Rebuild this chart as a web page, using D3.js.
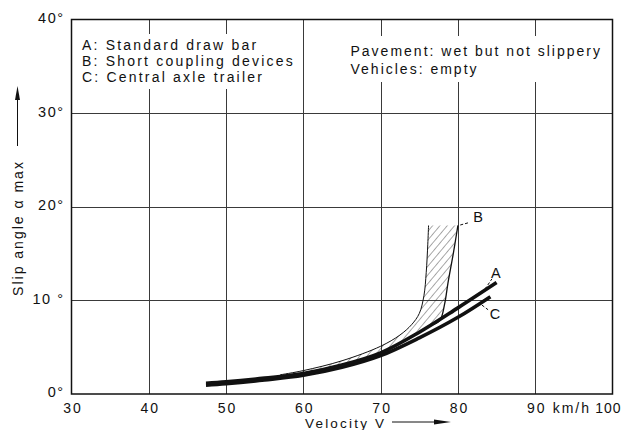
<!DOCTYPE html>
<html>
<head>
<meta charset="utf-8">
<script src="https://cdn.jsdelivr.net/npm/d3@7"></script>
<style>
  html, body { margin: 0; padding: 0; background: #fff; }
  svg { display: block; }
  text { font-family: "Liberation Sans", Arial, Helvetica, sans-serif; fill: #111; }
</style>
</head>
<body>
<svg id="chart" width="624" height="430"></svg>
<script>
// Velocity ticks (km/h) and slip-angle ticks (degrees)
const speedTicks = [30, 40, 50, 60, 70, 80, 90, 100];
const angleTicks = [0, 10, 20, 30, 40];
const angleTickLabels = ["0°", "10 °", "20°", "30°", "40°"];

// A: standard draw bar
const aSpeed = [47.4, 50, 55, 60, 65, 70, 75, 80, 85];
const aAngle = [1.15, 1.3, 1.7, 2.2, 3.1, 4.4, 6.6, 9.2, 11.9];

// C: central axle trailer
const cSpeed = [47.4, 50, 55, 60, 65, 70, 75, 80, 84.2];
const cAngle = [0.95, 1.1, 1.5, 2.0, 2.85, 4.1, 6.0, 8.2, 10.4];

// B: short coupling devices (scatter band) - left and right boundaries
const bLeftSpeed = [57, 60, 65, 70, 72.5, 74, 75, 75.6, 75.9, 76.1, 76.2];
const bLeftAngle = [2.05, 2.5, 3.55, 5.1, 6.3, 7.4, 8.6, 10.5, 13, 16, 18];
const bRightSpeed = [80, 79.4, 78.7, 78.3, 77.7, 76.8];
const bRightAngle = [18, 15, 11.8, 9.7, 7.9, 7.4];

// Curve tags with their leader lines
const tagNames = ["A", "B", "C"];
const tagSpeed = [84.9, 82.6, 84.8];
const tagAngle = [13.0, 18.9, 8.6];
const leadFromSpeed = [83.5, 80.3, 83.1];
const leadFromAngle = [11.2, 18.05, 9.5];
const leadToSpeed = [84.4, 81.4, 83.9];
const leadToAngle = [12.3, 18.3, 9.0];

const legendLines = ["A: Standard draw bar", "B: Short coupling devices", "C: Central axle trailer"];
const conditionLines = ["Pavement: wet but not slippery", "Vehicles: empty"];

const svg = d3.select("#chart");
const plot = { left: 71.5, right: 612.5, top: 19.5, bottom: 394 };

const x = d3.scaleLinear().domain([30, 100]).range([plot.left, plot.right]);
const y = d3.scaleLinear().domain([0, 40]).range([plot.bottom, plot.top]);

const zip = (xs, ys) => xs.map((v, i) => [v, ys[i]]);

// hatch pattern for the B band
const defs = svg.append("defs");
defs.append("pattern")
  .attr("id", "hatch")
  .attr("patternUnits", "userSpaceOnUse")
  .attr("width", 5.6).attr("height", 10)
  .attr("patternTransform", "rotate(40)")
  .append("line")
  .attr("x1", 0).attr("y1", 0).attr("x2", 0).attr("y2", 10)
  .attr("stroke", "#222").attr("stroke-width", 0.8);

// grid
const grid = svg.append("g").attr("stroke", "#3a3a3a").attr("stroke-width", 1);
grid.selectAll("line.v")
  .data(speedTicks.filter(d => d > 30 && d < 100))
  .join("line")
  .attr("x1", d => Math.round(x(d)) + 0.5).attr("x2", d => Math.round(x(d)) + 0.5)
  .attr("y1", plot.top).attr("y2", plot.bottom);
grid.selectAll("line.h")
  .data(angleTicks.filter(d => d > 0 && d < 40))
  .join("line")
  .attr("y1", d => Math.round(y(d)) + 0.5).attr("y2", d => Math.round(y(d)) + 0.5)
  .attr("x1", plot.left).attr("x2", plot.right);

// white panels behind the text blocks
svg.append("rect").attr("x", 78).attr("y", 34).attr("width", 214).attr("height", 55).attr("fill", "#fff");
svg.append("rect").attr("x", 345).attr("y", 36).attr("width", 262).attr("height", 46).attr("fill", "#fff");

// frame
svg.append("rect")
  .attr("x", plot.left).attr("y", plot.top)
  .attr("width", plot.right - plot.left).attr("height", plot.bottom - plot.top)
  .attr("fill", "none").attr("stroke", "#111").attr("stroke-width", 1.5);

// axis tick labels
const xAxis = d3.axisBottom(x).tickValues(speedTicks).tickSize(0).tickFormat(d3.format("d"));
const gx = svg.append("g").attr("transform", `translate(0,${plot.bottom})`).call(xAxis);
gx.select(".domain").remove();
gx.selectAll("text")
  .attr("y", 0).attr("dy", 18.5).attr("dx", 1)
  .style("font-size", "14px").style("letter-spacing", "2px").style("fill", "#111");
// the last label sits against the right edge of the page
gx.selectAll(".tick").filter(d => d === 100).select("text")
  .attr("text-anchor", "end").attr("dx", 621 - x(100))
  .style("letter-spacing", "1px");

const yAxis = d3.axisLeft(y).tickValues(angleTicks).tickSize(0).tickFormat((d, i) => angleTickLabels[i]);
const gy = svg.append("g").attr("transform", `translate(${plot.left - 4},0)`).call(yAxis);
gy.select(".domain").remove();
gy.selectAll("text")
  .attr("dy", "0.2em")
  .style("font-size", "14.5px").style("letter-spacing", "1.5px").style("fill", "#111");

// unit label between 90 and 100
svg.append("text")
  .attr("x", x(95) - 2).attr("y", plot.bottom + 18.5)
  .attr("text-anchor", "middle")
  .style("font-size", "14px").style("letter-spacing", "2px")
  .text("km/h");

// axis titles
svg.append("text")
  .attr("x", 305).attr("y", 428)
  .style("font-size", "13.5px").style("letter-spacing", "2.2px")
  .text("Velocity V");
svg.append("line").attr("x1", 392).attr("x2", 440).attr("y1", 422).attr("y2", 422)
  .attr("stroke", "#111").attr("stroke-width", 1);
svg.append("path").attr("d", "M434,419.5 L451,422 L434,424.5 Z").attr("fill", "#111");

svg.append("text")
  .attr("transform", "translate(23,228) rotate(-90)")
  .attr("text-anchor", "middle")
  .style("font-size", "14px").style("letter-spacing", "2px")
  .text("Slip angle α max");
svg.append("line").attr("x1", 17.5).attr("x2", 17.5).attr("y1", 146).attr("y2", 96)
  .attr("stroke", "#111").attr("stroke-width", 1);
svg.append("path").attr("d", "M15,100 L17.5,86 L20,100 Z").attr("fill", "#111");

// legend and conditions
svg.append("g").selectAll("text").data(legendLines).join("text")
  .attr("x", 82).attr("y", (d, i) => 49.5 + i * 16.2)
  .style("font-size", "14px").style("letter-spacing", "2.2px")
  .text(d => d);
svg.append("g").selectAll("text").data(conditionLines).join("text")
  .attr("x", 350.5).attr("y", (d, i) => 56 + i * 17.5)
  .style("font-size", "14px").style("letter-spacing", "2px")
  .text(d => d);

// curve generators
const smooth = d3.line().x(d => x(d[0])).y(d => y(d[1])).curve(d3.curveCatmullRom.alpha(0.5));

// B band: hatched area bounded by left edge, right edge and curve A
const bLeft = zip(bLeftSpeed, bLeftAngle);
const bRight = zip(bRightSpeed, bRightAngle);
const aPts = zip(aSpeed, aAngle);
const bBottom = aPts.filter(p => p[0] > bLeftSpeed[0] && p[0] < bRightSpeed[bRightSpeed.length - 1]).reverse();
const bandPath = smooth(bLeft) + "L" + smooth(bRight).slice(1) + "L" + smooth(bBottom).slice(1) + "Z";
svg.append("path").attr("d", bandPath).attr("fill", "url(#hatch)").attr("stroke", "none");
svg.append("path").attr("d", smooth(bLeft)).attr("fill", "none").attr("stroke", "#111").attr("stroke-width", 1);
svg.append("path").attr("d", smooth(bRight)).attr("fill", "none").attr("stroke", "#111").attr("stroke-width", 1.3);

// curves A and C
svg.append("path").attr("d", smooth(zip(cSpeed, cAngle)))
  .attr("fill", "none").attr("stroke", "#111").attr("stroke-width", 3.6).attr("stroke-linecap", "butt");
svg.append("path").attr("d", smooth(aPts))
  .attr("fill", "none").attr("stroke", "#111").attr("stroke-width", 3.6).attr("stroke-linecap", "butt");

// tags and leaders
const tags = svg.append("g");
tags.selectAll("line").data(tagNames).join("line")
  .attr("x1", (d, i) => x(leadFromSpeed[i])).attr("y1", (d, i) => y(leadFromAngle[i]))
  .attr("x2", (d, i) => x(leadToSpeed[i])).attr("y2", (d, i) => y(leadToAngle[i]))
  .attr("stroke", "#111").attr("stroke-width", 1).attr("stroke-dasharray", "3,2");
tags.selectAll("text").data(tagNames).join("text")
  .attr("x", (d, i) => x(tagSpeed[i])).attr("y", (d, i) => y(tagAngle[i]))
  .attr("text-anchor", "middle").attr("dy", "0.36em")
  .style("font-size", "14.5px")
  .text(d => d);
</script>
</body>
</html>
